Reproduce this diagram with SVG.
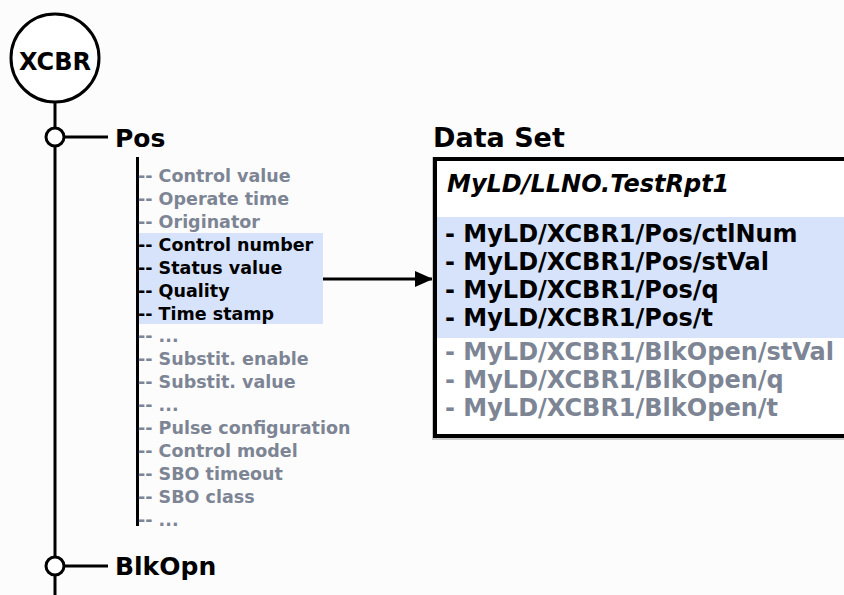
<svg xmlns="http://www.w3.org/2000/svg" width="844" height="595" viewBox="0 0 844 595">
<style>
  text { font-family: "DejaVu Sans", "Liberation Sans", sans-serif; font-weight: bold; }
  .line { stroke: #000; stroke-width: 3; fill: none; }
  .item { font-size: 17.5px; fill: #7d8595; }
  .item.sel { fill: #000; }
  .ds { font-size: 24px; fill: #7d8595; }
  .ds.sel { fill: #000; }
  .hl { fill: #d6e3fa; }
  .node-circle { fill: #fff; stroke: #000; stroke-width: 3; }
  .label { font-size: 25px; fill: #000; }
</style>
<defs>
  <marker id="arrow" markerUnits="userSpaceOnUse" markerWidth="18" markerHeight="16" refX="18" refY="8" orient="auto">
    <path d="M0,0 L18,8 L0,16 z" fill="#000"/>
  </marker>
</defs>
<rect x="0" y="0" width="844" height="595" fill="#fcfcfc"/>

<g id="connectors">
  <line class="line" x1="55" y1="103" x2="55" y2="595"/>
  <line class="line" x1="64" y1="137" x2="108" y2="137"/>
  <line class="line" x1="64" y1="566" x2="108" y2="566"/>
  <line class="line" x1="323" y1="279" x2="433" y2="279" marker-end="url(#arrow)"/>
</g>

<g id="node-xcbr">
  <circle cx="55" cy="58" r="44" class="node-circle"/>
  <text x="55" y="70" class="label" style="font-size:24px" text-anchor="middle">XCBR</text>
</g>

<g id="node-pos">
  <circle cx="55" cy="137" r="9" class="node-circle"/>
  <text x="115" y="147" class="label">Pos</text>
</g>

<g id="node-blkopn">
  <circle cx="55" cy="566" r="9" class="node-circle"/>
  <text x="115" y="575" class="label">BlkOpn</text>
</g>

<g id="node-pos-attributes">
  <rect class="hl" x="139" y="233" width="184" height="91"/>
  <line class="line" x1="137.5" y1="157" x2="137.5" y2="526"/>
  <text class="item" x="138" y="182">-- Control value</text>
  <text class="item" x="138" y="205">-- Operate time</text>
  <text class="item" x="138" y="228">-- Originator</text>
  <text class="item sel" x="138" y="251">-- Control number</text>
  <text class="item sel" x="138" y="274">-- Status value</text>
  <text class="item sel" x="138" y="297">-- Quality</text>
  <text class="item sel" x="138" y="320">-- Time stamp</text>
  <text class="item" x="138" y="342">-- ...</text>
  <text class="item" x="138" y="365">-- Substit. enable</text>
  <text class="item" x="138" y="388">-- Substit. value</text>
  <text class="item" x="138" y="411">-- ...</text>
  <text class="item" x="138" y="434">-- Pulse configuration</text>
  <text class="item" x="138" y="457">-- Control model</text>
  <text class="item" x="138" y="480">-- SBO timeout</text>
  <text class="item" x="138" y="503">-- SBO class</text>
  <text class="item" x="138" y="526">-- ...</text>
</g>

<g id="node-dataset">
  <text x="433" y="147" style="font-size:27px" fill="#000">Data Set</text>
  <rect x="432" y="157" width="420" height="283" fill="#c8c8c8"/>
  <rect x="435" y="159" width="420" height="277" fill="#fff" stroke="#000" stroke-width="4"/>
  <rect class="hl" x="437" y="217" width="407" height="121"/>
  <text x="447" y="192" style="font-size:24px;font-style:italic" fill="#000">MyLD/LLNO.TestRpt1</text>
  <text class="ds sel" x="445" y="242">- MyLD/XCBR1/Pos/ctlNum</text>
  <text class="ds sel" x="445" y="270">- MyLD/XCBR1/Pos/stVal</text>
  <text class="ds sel" x="445" y="298">- MyLD/XCBR1/Pos/q</text>
  <text class="ds sel" x="445" y="326">- MyLD/XCBR1/Pos/t</text>
  <text class="ds" x="445" y="360">- MyLD/XCBR1/BlkOpen/stVal</text>
  <text class="ds" x="445" y="388">- MyLD/XCBR1/BlkOpen/q</text>
  <text class="ds" x="445" y="416">- MyLD/XCBR1/BlkOpen/t</text>
</g>
</svg>
